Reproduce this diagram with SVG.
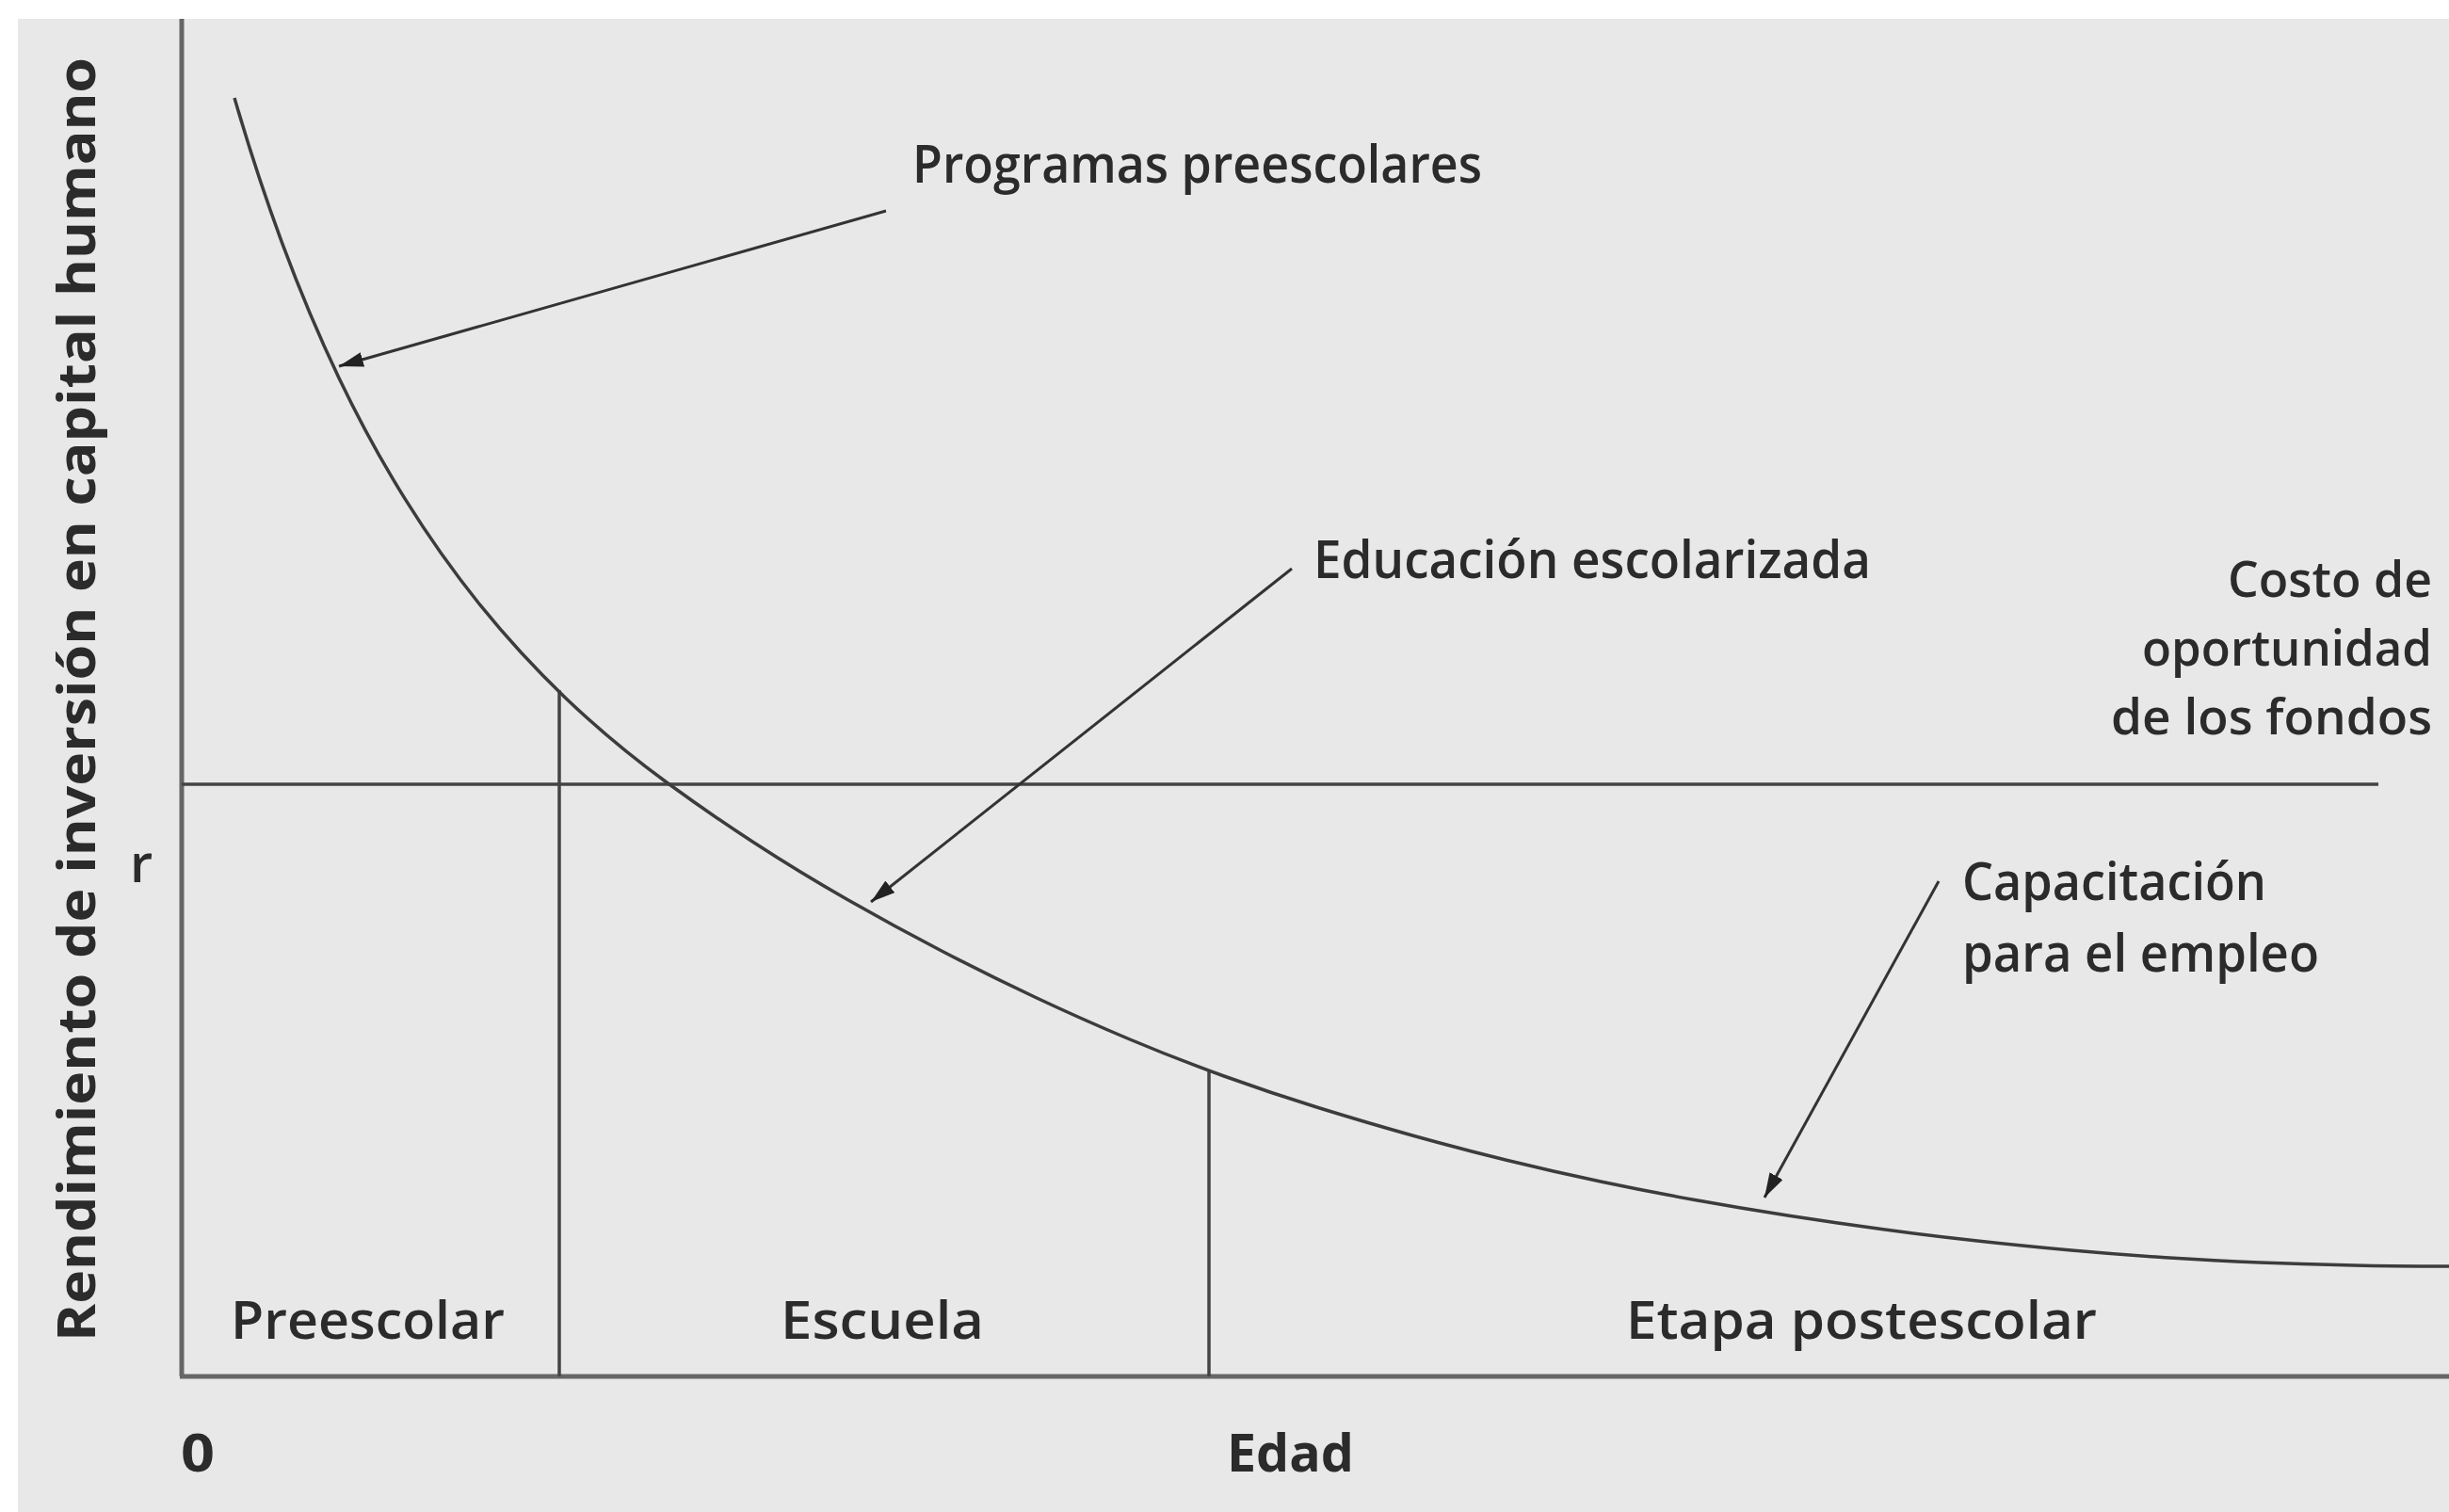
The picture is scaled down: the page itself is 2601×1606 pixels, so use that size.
<svg xmlns="http://www.w3.org/2000/svg" width="2601" height="1606" viewBox="0 0 2601 1606">
<style>
.lbl{font-family:"Open Sans","Noto Sans","Liberation Sans",sans-serif;font-size:56px;font-weight:600;fill:#2b2b2b;}
.bold{font-weight:bold;}
.sm{font-size:53px;}
.axis{stroke:#666;stroke-width:5;fill:none;}
.div{stroke:#444;stroke-width:3.5;fill:none;}
.curve{stroke:#3c3c3c;stroke-width:3.5;fill:none;}
.conn{stroke:#333;stroke-width:3;fill:none;}
</style>
<defs>
<marker id="ah" markerUnits="userSpaceOnUse" markerWidth="30" markerHeight="20" refX="26" refY="8" orient="auto">
<path d="M0,0 L26,8 L0,16 Z" fill="#222"/>
</marker>
</defs>
<rect x="0" y="0" width="2601" height="1606" fill="#ffffff"/>
<rect x="19" y="20" width="2582" height="1586" fill="#e8e8e8"/>

<g id="axes">
<line class="axis" x1="193" y1="20" x2="193" y2="1462"/>
<line class="axis" x1="191" y1="1462" x2="2601" y2="1462"/>
<line class="div" x1="193" y1="833" x2="2526" y2="833"/>
<line class="div" x1="594" y1="733" x2="594" y2="1462"/>
<line class="div" x1="1284" y1="1137" x2="1284" y2="1462"/>
</g>

<g id="curve">
<path class="curve" d="M249,104 C266,162.5 283,213.4 300,259.1 C320,312.9 340,359.6 360,401.4 C383.3,450.2 406.7,492.1 430,529.7 C456.7,572.6 483.3,609.6 510,642.7 C540,679.9 570,712 600,740.7 C636,775.2 672,804.7 708,831 C738.7,853.4 769.3,874.6 800,894.5 C833.3,916.2 866.7,936.5 900,955.5 C933.3,974.5 966.7,992.7 1000,1010 C1033.3,1027.3 1066.7,1043.8 1100,1059.5 C1133.3,1075.2 1166.7,1090 1200,1104 C1233.3,1118 1266.7,1131 1300,1143 C1333.3,1155 1366.7,1166.2 1400,1176.5 C1433.3,1186.8 1466.7,1196.7 1500,1206 C1533.3,1215.3 1566.7,1224.1 1600,1232.25 C1633.3,1240.4 1666.7,1248 1700,1255 C1733.3,1262 1766.7,1268.5 1800,1274.5 C1833.3,1280.5 1866.7,1286.1 1900,1291.25 C1933.3,1296.4 1966.7,1301.25 2000,1305.75 C2033.3,1310.25 2066.7,1314.3 2100,1318 C2133.3,1321.7 2166.7,1325 2200,1328 C2233.3,1331 2266.7,1333.6 2300,1335.75 C2333.3,1337.9 2366.7,1339.7 2400,1341 C2433.3,1342.3 2466.7,1343.3 2500,1344 C2533.7,1344.7 2567.3,1345 2601,1345"/>
</g>

<g id="connectors">
<line class="conn" x1="941" y1="224" x2="360" y2="389" marker-end="url(#ah)"/>
<line class="conn" x1="1372" y1="604" x2="925" y2="958" marker-end="url(#ah)"/>
<line class="conn" x1="2059" y1="936" x2="1874" y2="1272" marker-end="url(#ah)"/>
</g>

<g id="ylabel">
<text class="lbl bold" font-size="60" transform="translate(101,1425) rotate(-90)" textLength="1364" lengthAdjust="spacingAndGlyphs">Rendimiento de inversión en capital humano</text>
</g>
<g id="r-label"><text class="lbl" x="138" y="937">r</text></g>
<g id="programas"><text class="lbl" x="969" y="194" textLength="605" lengthAdjust="spacingAndGlyphs">Programas preescolares</text></g>
<g id="educacion"><text class="lbl" x="1395" y="614" textLength="592" lengthAdjust="spacingAndGlyphs">Educación escolarizada</text></g>
<g id="costo">
<text class="lbl sm" x="2366" y="634" textLength="217" lengthAdjust="spacingAndGlyphs">Costo de</text>
<text class="lbl sm" x="2275" y="707" textLength="308" lengthAdjust="spacingAndGlyphs">oportunidad</text>
<text class="lbl sm" x="2242" y="780" textLength="341" lengthAdjust="spacingAndGlyphs">de los fondos</text>
</g>
<g id="capacitacion">
<text class="lbl" x="2084" y="956" textLength="323" lengthAdjust="spacingAndGlyphs">Capacitación</text>
<text class="lbl" x="2084" y="1032" textLength="379" lengthAdjust="spacingAndGlyphs">para el empleo</text>
</g>
<g id="preescolar"><text class="lbl" x="245" y="1422" textLength="291" lengthAdjust="spacingAndGlyphs">Preescolar</text></g>
<g id="escuela"><text class="lbl" x="829" y="1422" textLength="216" lengthAdjust="spacingAndGlyphs">Escuela</text></g>
<g id="postescolar"><text class="lbl" x="1727" y="1422" textLength="500" lengthAdjust="spacingAndGlyphs">Etapa postescolar</text></g>
<g id="origin"><text class="lbl bold" x="192" y="1563" textLength="36" lengthAdjust="spacingAndGlyphs">0</text></g>
<g id="edad"><text class="lbl bold" x="1303" y="1563" textLength="135" lengthAdjust="spacingAndGlyphs">Edad</text></g>
</svg>
